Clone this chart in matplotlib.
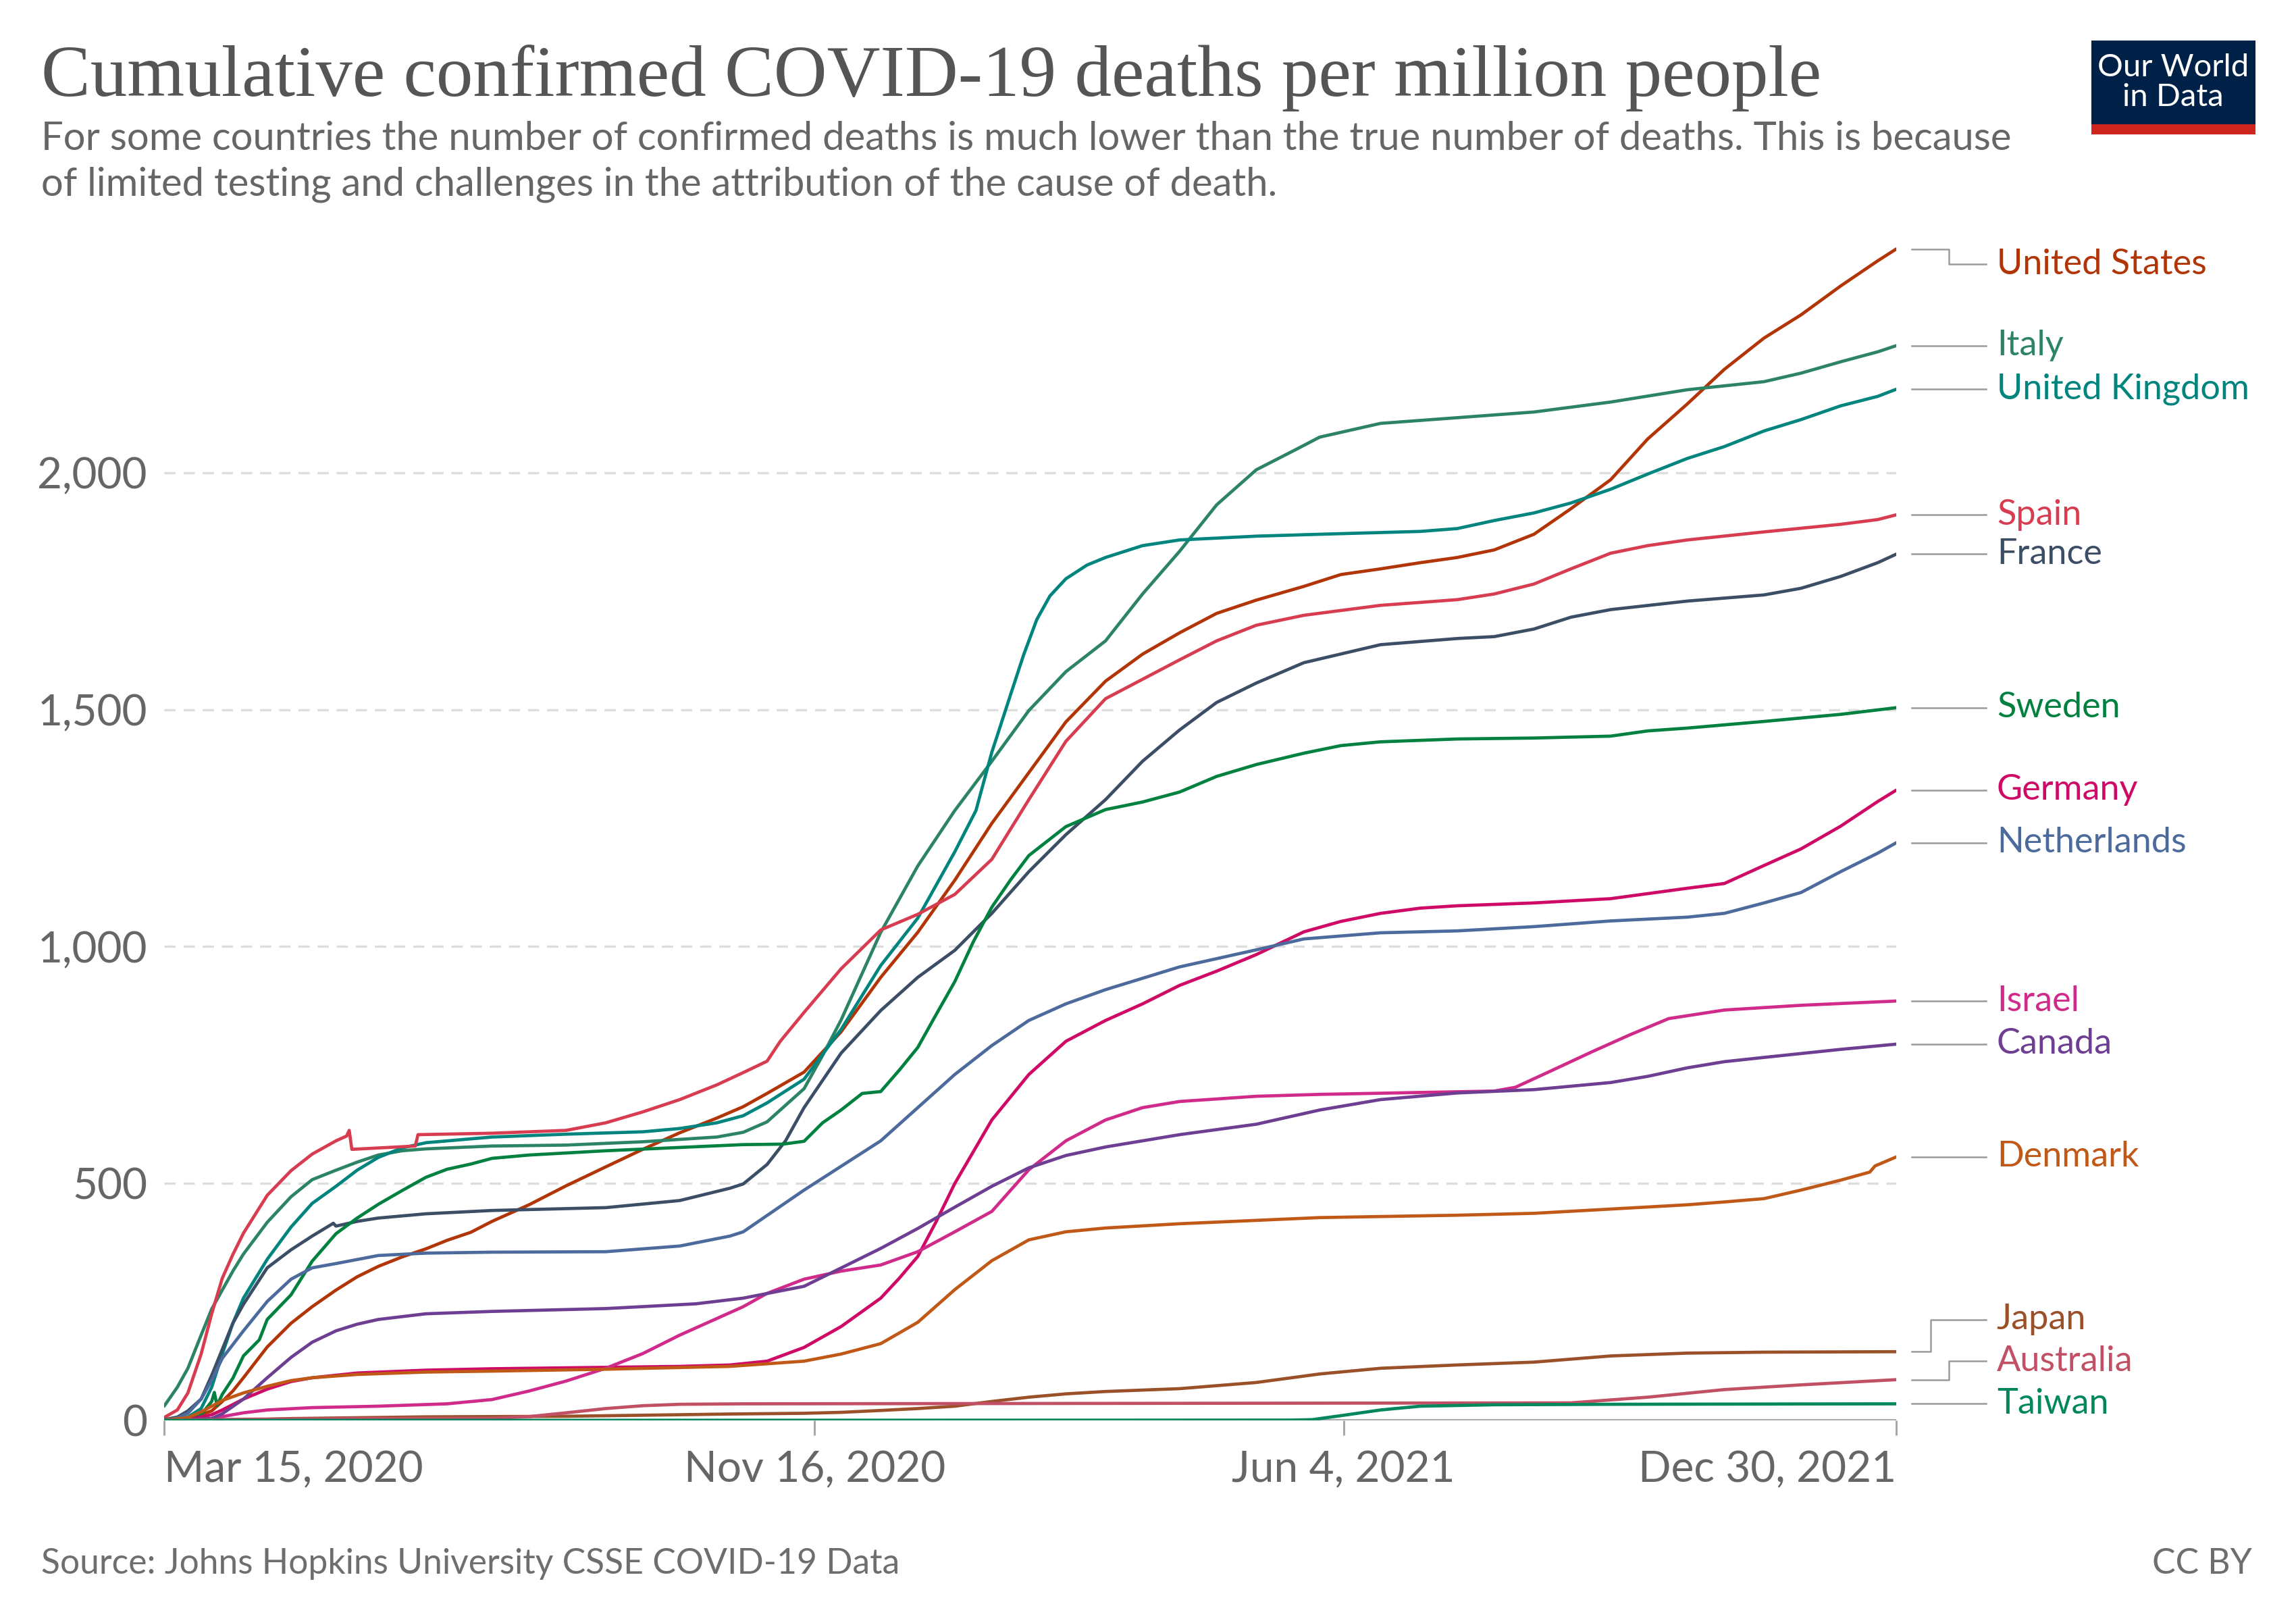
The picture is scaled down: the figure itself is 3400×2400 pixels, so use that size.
import matplotlib
matplotlib.use("Agg")
import matplotlib.pyplot as plt
import matplotlib.dates as mdates
from matplotlib.patches import Rectangle
import pandas as pd

# ---------------- data (deaths per million) ----------------
united_states = [("2020-03-15", 0.2), ("2020-03-24", 3), ("2020-04-02", 20), ("2020-04-06", 40), ("2020-04-10", 62),
    ("2020-04-14", 90), ("2020-04-23", 155), ("2020-05-02", 205), ("2020-05-10", 240), ("2020-05-19", 275),
    ("2020-05-27", 303), ("2020-06-04", 325), ("2020-06-13", 345), ("2020-06-22", 362), ("2020-06-30", 380),
    ("2020-07-09", 397), ("2020-07-17", 420), ("2020-07-31", 455), ("2020-08-14", 495), ("2020-08-29", 535),
    ("2020-09-12", 572), ("2020-09-26", 607), ("2020-10-10", 638), ("2020-10-20", 662), ("2020-10-29", 690),
    ("2020-11-12", 735), ("2020-11-26", 820), ("2020-12-11", 935), ("2020-12-25", 1030), ("2021-01-08", 1140),
    ("2021-01-22", 1260), ("2021-02-05", 1367), ("2021-02-19", 1474), ("2021-03-06", 1560), ("2021-03-20", 1617),
    ("2021-04-03", 1662), ("2021-04-17", 1703), ("2021-05-02", 1731), ("2021-05-20", 1760), ("2021-06-03", 1785),
    ("2021-06-18", 1797), ("2021-07-03", 1810), ("2021-07-17", 1821), ("2021-07-31", 1837), ("2021-08-15", 1870),
    ("2021-08-29", 1924), ("2021-09-13", 1985), ("2021-09-27", 2071), ("2021-10-12", 2145), ("2021-10-26", 2218),
    ("2021-11-10", 2284), ("2021-11-24", 2333), ("2021-12-09", 2394), ("2021-12-23", 2447), ("2021-12-30", 2472)]

italy = [("2020-03-15", 30), ("2020-03-20", 70), ("2020-03-24", 110), ("2020-03-29", 180), ("2020-04-02", 235),
    ("2020-04-06", 275), ("2020-04-10", 315), ("2020-04-14", 351), ("2020-04-23", 418), ("2020-05-02", 472),
    ("2020-05-10", 508), ("2020-05-19", 528), ("2020-05-27", 545), ("2020-06-04", 560), ("2020-06-13", 569),
    ("2020-06-22", 573), ("2020-07-17", 579), ("2020-08-14", 581), ("2020-09-12", 588), ("2020-10-10", 598),
    ("2020-10-20", 608), ("2020-10-29", 630), ("2020-11-12", 700), ("2020-11-19", 770), ("2020-11-26", 845),
    ("2020-12-11", 1030), ("2020-12-25", 1170), ("2021-01-08", 1287), ("2021-01-22", 1391), ("2021-02-05", 1498),
    ("2021-02-19", 1580), ("2021-03-06", 1645), ("2021-03-20", 1744), ("2021-04-03", 1834), ("2021-04-17", 1932),
    ("2021-05-02", 2006), ("2021-05-16", 2046), ("2021-05-26", 2075), ("2021-06-18", 2104), ("2021-07-17", 2116),
    ("2021-08-15", 2128), ("2021-09-13", 2149), ("2021-10-12", 2175), ("2021-11-10", 2192), ("2021-11-24", 2210),
    ("2021-12-09", 2234), ("2021-12-23", 2255), ("2021-12-30", 2268)]

united_kingdom = [("2020-03-15", 0.5), ("2020-03-20", 2.5), ("2020-03-24", 7), ("2020-03-29", 25), ("2020-04-02", 70),
    ("2020-04-06", 140), ("2020-04-10", 205), ("2020-04-14", 258), ("2020-04-23", 340), ("2020-05-02", 408),
    ("2020-05-10", 458), ("2020-05-19", 494), ("2020-05-27", 528), ("2020-06-04", 555), ("2020-06-13", 575),
    ("2020-06-22", 586), ("2020-07-17", 598), ("2020-08-14", 604), ("2020-09-12", 609), ("2020-09-26", 616),
    ("2020-10-10", 628), ("2020-10-20", 643), ("2020-10-29", 670), ("2020-11-12", 720), ("2020-11-26", 825),
    ("2020-12-11", 960), ("2020-12-25", 1060), ("2021-01-08", 1200), ("2021-01-16", 1287), ("2021-01-22", 1410),
    ("2021-01-29", 1530), ("2021-02-03", 1615), ("2021-02-08", 1690), ("2021-02-13", 1740), ("2021-02-19", 1776),
    ("2021-02-27", 1805), ("2021-03-06", 1821), ("2021-03-20", 1846), ("2021-04-03", 1858), ("2021-05-02", 1866),
    ("2021-05-26", 1870), ("2021-07-03", 1876), ("2021-07-17", 1882), ("2021-07-31", 1899), ("2021-08-15", 1915),
    ("2021-08-29", 1936), ("2021-09-13", 1965), ("2021-09-27", 1997), ("2021-10-12", 2030), ("2021-10-26", 2055),
    ("2021-11-10", 2088), ("2021-11-24", 2112), ("2021-12-09", 2141), ("2021-12-23", 2161), ("2021-12-30", 2176)]

spain = [("2020-03-15", 6), ("2020-03-20", 22), ("2020-03-24", 58), ("2020-03-29", 140), ("2020-04-02", 225),
    ("2020-04-06", 300), ("2020-04-10", 350), ("2020-04-14", 395), ("2020-04-23", 475), ("2020-05-02", 527),
    ("2020-05-10", 562), ("2020-05-19", 590), ("2020-05-23", 600), ("2020-05-24", 612), ("2020-05-25", 572),
    ("2020-06-18", 579), ("2020-06-19", 603), ("2020-07-17", 606), ("2020-08-14", 612), ("2020-08-29", 628),
    ("2020-09-12", 651), ("2020-09-26", 677), ("2020-10-10", 708), ("2020-10-20", 734), ("2020-10-29", 758),
    ("2020-11-03", 800), ("2020-11-12", 861), ("2020-11-26", 953), ("2020-12-11", 1035), ("2020-12-25", 1068),
    ("2021-01-08", 1110), ("2021-01-22", 1184), ("2021-02-05", 1310), ("2021-02-19", 1433), ("2021-03-06", 1523),
    ("2021-03-20", 1564), ("2021-04-03", 1605), ("2021-04-17", 1645), ("2021-05-02", 1678), ("2021-05-20", 1699),
    ("2021-06-18", 1720), ("2021-07-17", 1732), ("2021-07-31", 1744), ("2021-08-15", 1765), ("2021-08-29", 1797),
    ("2021-09-13", 1830), ("2021-09-27", 1846), ("2021-10-12", 1858), ("2021-11-10", 1875), ("2021-12-09", 1891),
    ("2021-12-23", 1901), ("2021-12-30", 1911)]

france = [("2020-03-15", 1.5), ("2020-03-20", 7), ("2020-03-24", 20), ("2020-03-29", 45), ("2020-04-02", 95),
    ("2020-04-06", 150), ("2020-04-10", 205), ("2020-04-14", 245), ("2020-04-23", 322), ("2020-05-02", 360),
    ("2020-05-10", 389), ("2020-05-18", 416), ("2020-05-19", 410), ("2020-05-27", 420), ("2020-06-04", 427),
    ("2020-06-22", 436), ("2020-07-17", 443), ("2020-08-29", 449), ("2020-09-26", 464), ("2020-10-15", 490),
    ("2020-10-20", 499), ("2020-10-29", 540), ("2020-11-05", 590), ("2020-11-12", 660), ("2020-11-26", 775),
    ("2020-12-11", 865), ("2020-12-25", 935), ("2021-01-08", 992), ("2021-01-22", 1070), ("2021-02-05", 1158),
    ("2021-02-19", 1236), ("2021-03-06", 1310), ("2021-03-20", 1391), ("2021-04-03", 1457), ("2021-04-17", 1515),
    ("2021-05-02", 1556), ("2021-05-20", 1599), ("2021-06-18", 1637), ("2021-07-17", 1650), ("2021-07-31", 1654),
    ("2021-08-15", 1670), ("2021-08-29", 1695), ("2021-09-13", 1711), ("2021-10-12", 1729), ("2021-11-10", 1742),
    ("2021-11-24", 1756), ("2021-12-09", 1781), ("2021-12-23", 1810), ("2021-12-30", 1828)]

sweden = [("2020-03-15", 0.3), ("2020-03-24", 3), ("2020-03-29", 12), ("2020-04-02", 40), ("2020-04-03", 59),
    ("2020-04-04", 32), ("2020-04-06", 55), ("2020-04-10", 89), ("2020-04-14", 136), ("2020-04-20", 170),
    ("2020-04-23", 213), ("2020-05-02", 265), ("2020-05-10", 336), ("2020-05-19", 394), ("2020-05-27", 427),
    ("2020-06-04", 456), ("2020-06-13", 485), ("2020-06-22", 513), ("2020-06-30", 530), ("2020-07-09", 541),
    ("2020-07-17", 553), ("2020-07-31", 560), ("2020-08-29", 569), ("2020-10-20", 582), ("2020-11-04", 583),
    ("2020-11-12", 589), ("2020-11-19", 628), ("2020-11-26", 655), ("2020-12-04", 690), ("2020-12-11", 694),
    ("2020-12-18", 739), ("2020-12-25", 787), ("2021-01-01", 857), ("2021-01-08", 926), ("2021-01-15", 1010),
    ("2021-01-22", 1083), ("2021-01-29", 1140), ("2021-02-05", 1192), ("2021-02-19", 1253), ("2021-03-06", 1289),
    ("2021-03-20", 1305), ("2021-04-03", 1326), ("2021-04-17", 1359), ("2021-05-02", 1384), ("2021-05-20", 1408),
    ("2021-06-03", 1424), ("2021-06-18", 1432), ("2021-07-17", 1438), ("2021-08-15", 1440), ("2021-09-13", 1444),
    ("2021-09-27", 1455), ("2021-10-12", 1461), ("2021-11-10", 1475), ("2021-12-09", 1490), ("2021-12-30", 1504)]

germany = [("2020-03-15", 0.1), ("2020-03-24", 1.5), ("2020-04-02", 12), ("2020-04-06", 22), ("2020-04-14", 45),
    ("2020-04-23", 66), ("2020-05-02", 82), ("2020-05-10", 90), ("2020-05-27", 100), ("2020-06-22", 106),
    ("2020-07-17", 109), ("2020-08-29", 112), ("2020-09-26", 114), ("2020-10-15", 117), ("2020-10-29", 125),
    ("2020-11-12", 154), ("2020-11-26", 198), ("2020-12-11", 258), ("2020-12-18", 300), ("2020-12-25", 346),
    ("2021-01-01", 420), ("2021-01-08", 500), ("2021-01-22", 634), ("2021-02-05", 730), ("2021-02-19", 800),
    ("2021-03-06", 844), ("2021-03-20", 879), ("2021-04-03", 918), ("2021-04-17", 948), ("2021-05-02", 983),
    ("2021-05-20", 1031), ("2021-06-03", 1053), ("2021-06-18", 1070), ("2021-07-03", 1081), ("2021-07-17", 1086),
    ("2021-08-15", 1092), ("2021-09-13", 1101), ("2021-10-12", 1123), ("2021-10-26", 1133), ("2021-11-10", 1171),
    ("2021-11-24", 1206), ("2021-12-09", 1254), ("2021-12-23", 1306), ("2021-12-30", 1330)]

netherlands = [("2020-03-15", 0.5), ("2020-03-20", 5), ("2020-03-24", 15), ("2020-03-29", 45), ("2020-04-02", 85),
    ("2020-04-06", 131), ("2020-04-10", 160), ("2020-04-14", 189), ("2020-04-23", 251), ("2020-05-02", 298),
    ("2020-05-10", 322), ("2020-05-19", 331), ("2020-06-04", 348), ("2020-06-22", 353), ("2020-07-17", 355),
    ("2020-08-29", 356), ("2020-09-26", 368), ("2020-10-15", 389), ("2020-10-20", 398), ("2020-11-12", 486),
    ("2020-12-11", 590), ("2021-01-08", 730), ("2021-01-22", 791), ("2021-02-05", 844), ("2021-02-19", 879),
    ("2021-03-06", 909), ("2021-04-03", 957), ("2021-05-02", 993), ("2021-05-20", 1016), ("2021-06-18", 1029),
    ("2021-07-17", 1033), ("2021-08-15", 1042), ("2021-09-13", 1054), ("2021-10-12", 1062), ("2021-10-26", 1070),
    ("2021-11-10", 1092), ("2021-11-24", 1114), ("2021-12-09", 1158), ("2021-12-23", 1197), ("2021-12-30", 1219)]

israel = [("2020-03-15", 0), ("2020-03-24", 0.5), ("2020-03-29", 2), ("2020-04-02", 4), ("2020-04-06", 8),
    ("2020-04-14", 16), ("2020-04-23", 22), ("2020-05-10", 27), ("2020-06-04", 30), ("2020-06-30", 35),
    ("2020-07-17", 44), ("2020-07-31", 62), ("2020-08-14", 83), ("2020-08-29", 110), ("2020-09-12", 141),
    ("2020-09-26", 180), ("2020-10-10", 215), ("2020-10-20", 240), ("2020-10-29", 268), ("2020-11-12", 298),
    ("2020-11-26", 315), ("2020-12-11", 328), ("2020-12-25", 356), ("2021-01-08", 398), ("2021-01-22", 441),
    ("2021-02-05", 529), ("2021-02-19", 590), ("2021-03-06", 634), ("2021-03-20", 660), ("2021-04-03", 673),
    ("2021-05-02", 684), ("2021-05-26", 688), ("2021-07-31", 695), ("2021-08-08", 703), ("2021-08-22", 739),
    ("2021-09-06", 778), ("2021-09-20", 813), ("2021-10-05", 848), ("2021-10-26", 866), ("2021-11-24", 876),
    ("2021-12-30", 885)]

canada = [("2020-03-15", 0.2), ("2020-03-24", 1), ("2020-04-02", 4), ("2020-04-06", 14), ("2020-04-14", 45),
    ("2020-04-23", 90), ("2020-05-02", 133), ("2020-05-10", 165), ("2020-05-19", 189), ("2020-05-27", 203),
    ("2020-06-04", 213), ("2020-06-22", 225), ("2020-07-17", 230), ("2020-08-29", 236), ("2020-10-02", 246),
    ("2020-10-20", 258), ("2020-11-12", 283), ("2020-12-11", 363), ("2020-12-25", 405), ("2021-01-08", 450),
    ("2021-01-22", 494), ("2021-02-05", 533), ("2021-02-19", 559), ("2021-03-06", 577), ("2021-04-03", 603),
    ("2021-05-02", 625), ("2021-05-26", 655), ("2021-06-18", 677), ("2021-07-17", 691), ("2021-08-15", 698),
    ("2021-09-13", 713), ("2021-09-27", 726), ("2021-10-12", 744), ("2021-10-26", 757), ("2021-11-10", 766),
    ("2021-12-09", 783), ("2021-12-30", 794)]

denmark = [("2020-03-15", 0.5), ("2020-03-24", 6), ("2020-03-29", 18), ("2020-04-06", 42), ("2020-04-14", 58),
    ("2020-04-23", 72), ("2020-05-02", 84), ("2020-05-10", 90), ("2020-05-27", 97), ("2020-06-22", 102),
    ("2020-07-17", 104), ("2020-08-29", 108), ("2020-10-15", 114), ("2020-11-12", 125), ("2020-11-26", 140),
    ("2020-12-11", 162), ("2020-12-25", 207), ("2021-01-08", 276), ("2021-01-22", 337), ("2021-01-29", 359),
    ("2021-02-05", 381), ("2021-02-19", 398), ("2021-03-06", 406), ("2021-04-03", 415), ("2021-05-26", 428),
    ("2021-07-17", 433), ("2021-08-15", 437), ("2021-09-13", 446), ("2021-10-12", 455), ("2021-10-26", 461),
    ("2021-11-10", 468), ("2021-11-24", 486), ("2021-12-09", 507), ("2021-12-20", 524), ("2021-12-22", 537),
    ("2021-12-30", 556)]

japan = [("2020-03-15", 0.2), ("2020-04-14", 1), ("2020-05-02", 3.9), ("2020-06-22", 7.5), ("2020-08-14", 8.7),
    ("2020-09-26", 12), ("2020-10-15", 13.5), ("2020-11-12", 15), ("2020-11-26", 17), ("2020-12-11", 21),
    ("2020-12-25", 25), ("2021-01-08", 30), ("2021-01-22", 40), ("2021-02-05", 49), ("2021-02-19", 56),
    ("2021-03-06", 61), ("2021-04-03", 67), ("2021-05-02", 80), ("2021-05-26", 98), ("2021-06-18", 110),
    ("2021-07-17", 117), ("2021-08-15", 123), ("2021-09-13", 136), ("2021-10-12", 142), ("2021-11-10", 144),
    ("2021-12-30", 145)]

australia = [("2020-03-15", 0.2), ("2020-04-14", 2.5), ("2020-05-27", 4), ("2020-07-17", 4.5), ("2020-07-31", 8),
    ("2020-08-14", 16), ("2020-08-29", 25), ("2020-09-12", 31), ("2020-09-26", 34), ("2020-10-20", 35),
    ("2021-08-29", 37), ("2021-09-27", 49), ("2021-10-26", 65), ("2021-11-24", 75), ("2021-12-30", 86)]

taiwan = [("2020-03-15", 0), ("2021-05-15", 0.6), ("2021-05-23", 1.5), ("2021-06-03", 10), ("2021-06-18", 22),
    ("2021-07-03", 30), ("2021-07-31", 33), ("2021-09-13", 34), ("2021-12-30", 35)]

countries = ["United States", "Italy", "United Kingdom", "Spain", "France", "Sweden", "Germany",
             "Netherlands", "Israel", "Canada", "Denmark", "Japan", "Australia", "Taiwan"]
series = [united_states, italy, united_kingdom, spain, france, sweden, germany,
          netherlands, israel, canada, denmark, japan, australia, taiwan]
colors = ["#B13507", "#2C8465", "#00847E", "#D73C50", "#3C4E66", "#00813F", "#CF0A66",
          "#4C6A9C", "#D02B8A", "#6D3E91", "#C05917", "#9A5129", "#C15065", "#00875E"]
elbow_frac = [0.5, 0.5, 0.5, 0.5, 0.5, 0.5, 0.5, 0.5, 0.5, 0.5, 0.5, 0.25, 0.5, 0.75]

x_ticks = ["2020-03-15", "2020-11-16", "2021-06-04", "2021-12-30"]
x_tick_labels = ["Mar 15, 2020", "Nov 16, 2020", "Jun 4, 2021", "Dec 30, 2021"]
y_ticks = [0, 500, 1000, 1500, 2000]
y_tick_labels = ["0", "500", "1,000", "1,500", "2,000"]

title = "Cumulative confirmed COVID-19 deaths per million people"
subtitle_lines = ["For some countries the number of confirmed deaths is much lower than the true number of deaths. This is because",
                  "of limited testing and challenges in the attribution of the cause of death."]
source = "Source: Johns Hopkins University CSSE COVID-19 Data"

# ---------------- figure ----------------
plt.rcParams['font.family'] = ['Lato', 'DejaVu Sans']
W, H = 3400, 2400
fig = plt.figure(figsize=(17, 12), dpi=200)
fig.patch.set_facecolor("white")

ax = fig.add_axes([243 / W, 1 - 2103 / H, (2808 - 243) / W, (2103 - 349) / H])
start = pd.Timestamp(x_ticks[0])
end = pd.Timestamp(x_ticks[-1])
ax.set_xlim(start, end)
ax.set_ylim(0, 2500)

for s in ax.spines.values():
    s.set_visible(False)

for yv in y_ticks[1:]:
    ax.axhline(yv, color="#dddddd", lw=1.2, linestyle=(0, (5, 3.5)), zorder=1)
ax.axhline(0, color="#a8a8a8", lw=1.4, zorder=1)

ax.set_yticks(y_ticks)
ax.set_yticklabels(y_tick_labels)
ax.tick_params(axis="y", length=0, pad=9, labelsize=23, labelcolor="#666666")

ax.set_xticks(pd.to_datetime(x_ticks))
ax.set_xticklabels(x_tick_labels)
ax.tick_params(axis="x", length=8, width=1.1, color="#a8a8a8", pad=8, labelsize=23, labelcolor="#666666")
xl = ax.get_xticklabels()
xl[0].set_ha("left")
xl[-1].set_ha("right")

end_vals = []
for name, data, c in zip(countries, series, colors):
    d = pd.to_datetime([p[0] for p in data])
    v = [p[1] for p in data]
    ax.plot(d, v, color=c, lw=1.7, solid_joinstyle="round", solid_capstyle="round", zorder=3)
    end_vals.append(v[-1])

# label placement (simple repel)
min_sep = 88
lower, upper = 37, 2440
order = sorted(range(len(end_vals)), key=lambda i: end_vals[i])
lab = {}
prev = None
for i in order:
    y = max(end_vals[i], lower if prev is None else prev + min_sep)
    lab[i] = y
    prev = y
prev = None
for i in reversed(order):
    y = min(lab[i], upper if prev is None else prev - min_sep)
    lab[i] = y
    prev = y
for i in lab:
    if abs(lab[i] - end_vals[i]) < 12:
        lab[i] = end_vals[i]

x0 = end + pd.Timedelta(days=6)
x1 = end + pd.Timedelta(days=34)
xt = end + pd.Timedelta(days=38)
for i, (name, c) in enumerate(zip(countries, colors)):
    ye, yl = end_vals[i], lab[i]
    if ye == yl:
        ax.plot([x0, x1], [ye, ye], color="#9a9a9a", lw=0.9, clip_on=False, zorder=2)
    else:
        xe = x0 + (x1 - x0) * elbow_frac[i]
        ax.plot([x0, xe, xe, x1], [ye, ye, yl, yl], color="#9a9a9a", lw=0.9, clip_on=False, zorder=2)
    ax.text(xt, yl, name, color=c, fontsize=18.8, va="center", ha="left", clip_on=False)

# ---------------- header / footer ----------------
fig.text(61 / W, 1 - 142 / H, title, fontsize=39.3, family=["Liberation Serif", "DejaVu Serif"],
         color="#555555", va="baseline", ha="left")
fig.text(61 / W, 1 - 222 / H, subtitle_lines[0], fontsize=20.9, color="#666666", va="baseline", ha="left")
fig.text(61 / W, 1 - 290 / H, subtitle_lines[1], fontsize=20.9, color="#666666", va="baseline", ha="left")
fig.text(61 / W, 1 - 2330 / H, source, fontsize=18.6, color="#6e6e6e", va="baseline", ha="left")
fig.text(3335 / W, 1 - 2330 / H, "CC BY", fontsize=18.6, color="#6e6e6e", va="baseline", ha="right")

# logo
fig.patches.append(Rectangle((3097 / W, 1 - 199 / H), 243 / W, 139 / H, transform=fig.transFigure,
                             facecolor="#002147", edgecolor="none"))
fig.patches.append(Rectangle((3097 / W, 1 - 199 / H), 243 / W, 15 / H, transform=fig.transFigure,
                             facecolor="#CE261E", edgecolor="none"))
fig.text(3218 / W, 1 - 122 / H, "Our World\nin Data", fontsize=17, color="white", ha="center", va="center",
         linespacing=1.05)

fig.savefig("out.png", dpi=200, facecolor="white")
